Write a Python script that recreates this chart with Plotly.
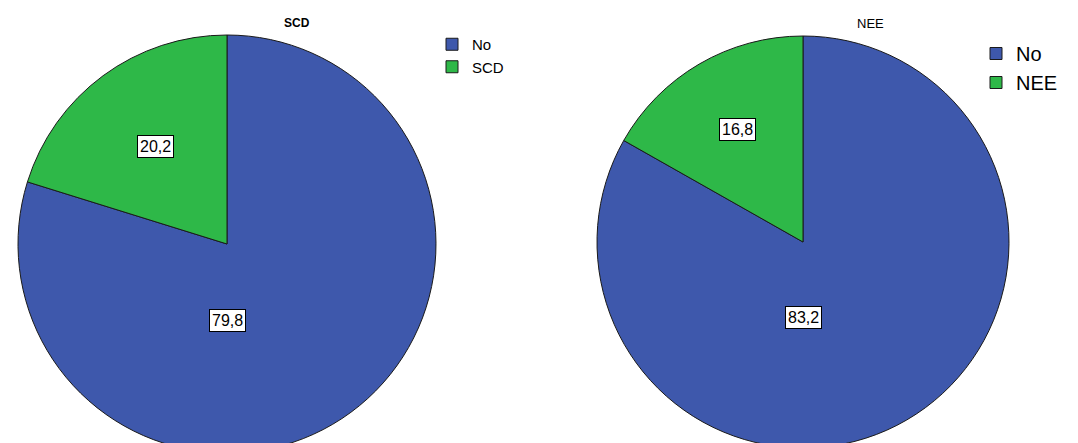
import math
import plotly.graph_objects as go

# ---- data ----
scd_labels = ["No", "SCD"]
scd_values = [79.8, 20.2]
nee_labels = ["No", "NEE"]
nee_values = [83.2, 16.8]
titles = ["SCD", "NEE"]
slice_colors = ["#3E58AC", "#2EB848"]

W, H = 1078, 455

# pie geometry in pixels (center x, center y from top, radius)
geo = [
    dict(cx=227, cy=244, r=209, lab=0.58),
    dict(cx=803, cy=242, r=206, lab=0.63),
]

fig = go.Figure()
series = [(scd_labels, scd_values, "legend"), (nee_labels, nee_values, "legend2")]
for i, ((labels, values, leg), g) in enumerate(zip(series, geo)):
    # zero-width suffix keeps pie labels of the two charts distinct in their own legends
    shown = [lab + "\u200b" * i for lab in labels]
    fig.add_trace(go.Pie(
        labels=shown, values=values, sort=False, direction="clockwise", rotation=0,
        marker=dict(colors=slice_colors, line=dict(color="#1a1a1a", width=1)),
        textinfo="none", hoverinfo="label+value",
        domain=dict(x=[(g["cx"] - g["r"]) / W, (g["cx"] + g["r"]) / W],
                    y=[1 - (g["cy"] + g["r"]) / H, 1 - (g["cy"] - g["r"]) / H]),
        legend=leg, showlegend=True,
    ))

def px_to_paper(x, y):
    return x / W, 1 - y / H

annotations = []
for (labels, values, leg), g in zip(series, geo):
    total = sum(values)
    big, small = values[0], values[1]
    ang = math.radians(360 * small / total / 2)
    d = g["lab"] * g["r"]
    x, y = g["cx"] - d * math.sin(ang), g["cy"] - d * math.cos(ang)
    for val, (lx, ly) in [(small, (x, y)), (big, (g["cx"], g["cy"] + 0.365 * g["r"]))]:
        px, py = px_to_paper(lx, ly)
        annotations.append(dict(
            x=px, y=py, xref="paper", yref="paper", showarrow=False,
            xanchor="center", yanchor="middle",
            text=f"{val:.1f}".replace(".", ","),
            font=dict(family="Liberation Sans, Arial", size=16, color="black"),
            bgcolor="white", bordercolor="black", borderwidth=1, borderpad=2,
        ))

title_pos = [(297, 23, True, 12), (870, 23, False, 13)]
for t, (tx, ty, bold, fs) in zip(titles, title_pos):
    px, py = px_to_paper(tx, ty)
    annotations.append(dict(
        x=px, y=py, xref="paper", yref="paper", showarrow=False,
        xanchor="center", yanchor="middle",
        text=f"<b>{t}</b>" if bold else t,
        font=dict(family="Liberation Sans, Arial", size=fs, color="black"),
    ))

fig.update_layout(
    width=W, height=H,
    margin=dict(l=0, r=0, t=0, b=0),
    paper_bgcolor="white", plot_bgcolor="white",
    annotations=annotations,
    legend=dict(x=432 / W, y=1 - 28 / H, xanchor="left", yanchor="top",
                font=dict(family="Liberation Sans, Arial", size=15, color="black"),
                itemwidth=30, tracegroupgap=0, bgcolor="rgba(0,0,0,0)"),
    legend2=dict(x=976 / W, y=1 - 34 / H, xanchor="left", yanchor="top",
                 font=dict(family="Liberation Sans, Arial", size=20, color="black"),
                 itemwidth=30, tracegroupgap=0, bgcolor="rgba(0,0,0,0)"),
)

fig.write_html("out.html", config={"displayModeBar": False},
               post_script="document.body.style.overflow='hidden';document.documentElement.style.overflow='hidden';")
